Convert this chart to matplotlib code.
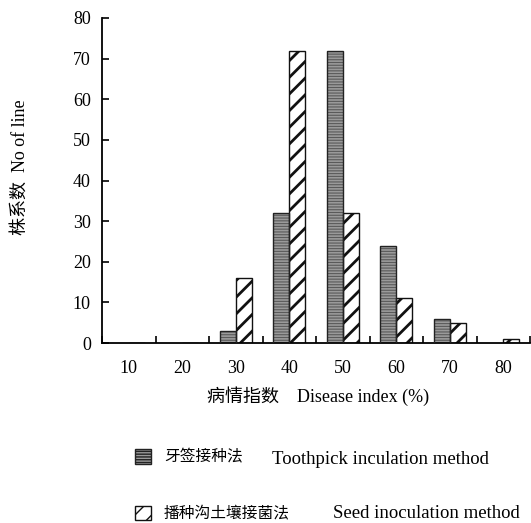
import matplotlib
matplotlib.use("Agg")
import matplotlib.pyplot as plt
from matplotlib.patches import Patch
import numpy as np

plt.rcParams['font.family'] = ['Liberation Serif', 'Noto Sans CJK SC']

categories = ['10', '20', '30', '40', '50', '60', '70', '80']
toothpick = [0, 0, 3, 32, 72, 24, 6, 0]
seed = [0, 0, 16, 72, 32, 11, 5, 1]
yticks = [0, 10, 20, 30, 40, 50, 60, 70, 80]
legend_cn = ['牙签接种法', '播种沟土壤接菌法']
legend_en = ['Toothpick inculation method', 'Seed inoculation method']

fig = plt.figure(figsize=(5.31, 5.23), dpi=100)
ax = fig.add_axes([102/531, 1 - 343/523, 428/531, 325/523])

x = np.arange(len(categories))
w = 0.3

b1 = ax.bar(x - w/2, toothpick, w, color='#9a9a9a', edgecolor='#5a5a5a',
            hatch='------', linewidth=0, zorder=2)
ax.bar(x - w/2, toothpick, w, fill=False, edgecolor='#222222', linewidth=1.0, zorder=3)
b2 = ax.bar(x + w/2, seed, w, color='white', edgecolor='#111111',
            hatch='//', linewidth=1.0, zorder=2)
for p in b1:
    try:
        p.set_hatch_linewidth(0.8)
    except Exception:
        pass
for p in b2:
    try:
        p.set_hatch_linewidth(2.0)
    except Exception:
        pass

ax.set_xlim(-0.5, len(categories) - 0.5)
ax.set_ylim(0, 80)
ax.set_yticks(yticks)
ax.set_yticklabels([str(v) for v in yticks])
ax.set_xticks(x)
ax.set_xticklabels(categories)
ax.set_xticks(np.arange(len(categories) + 1) - 0.5, minor=True)
ax.tick_params(axis='x', which='major', length=0, pad=12, labelsize=13)
ax.tick_params(axis='x', which='minor', direction='in', length=5, width=1.2)
ax.tick_params(axis='y', direction='in', length=5, width=1.2, labelsize=13, pad=8)

for s in ['top', 'right']:
    ax.spines[s].set_visible(False)
for s in ['left', 'bottom']:
    ax.spines[s].set_linewidth(1.3)

fig.text(318/531, 1 - 396/523, '病情指数    Disease index (%)', ha='center', va='center', fontsize=13)
fig.text(20/531, 1 - 167/523, '株系数  No of line', ha='center', va='center', rotation=90, fontsize=13)

h1 = Patch(facecolor='#9a9a9a', edgecolor='#222222', hatch='------', linewidth=1.0)
h2 = Patch(facecolor='white', edgecolor='#111111', hatch='//', linewidth=1.0)
leg = fig.legend([h1, h2], legend_cn,
                 loc='upper left', bbox_to_anchor=(135/531, 1 - 449/523),
                 frameon=False, fontsize=11.3, borderpad=0, borderaxespad=0,
                 handlelength=1.05, handleheight=1.05, handletextpad=0.8,
                 labelspacing=2.55)
fig.text(272/531, 1 - 459/523, legend_en[0], ha='left', va='center', fontsize=13.5)
fig.text(333/531, 1 - 513/523, legend_en[1], ha='left', va='center', fontsize=13.5)

fig.savefig('out.png', dpi=100)
